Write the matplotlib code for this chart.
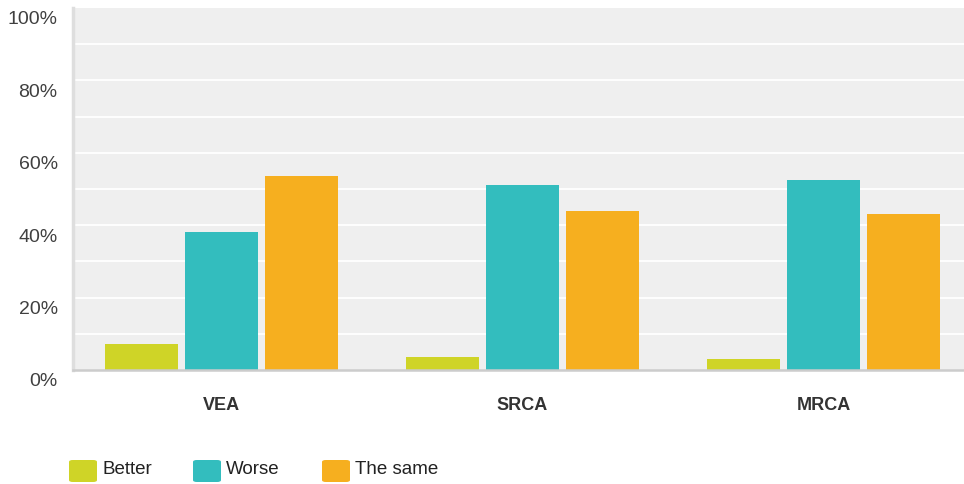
import matplotlib
matplotlib.use("Agg")
import matplotlib.pyplot as plt
from matplotlib.patches import FancyBboxPatch
from matplotlib.transforms import ScaledTranslation
import numpy as np

plt.rcParams['font.family'] = ['Liberation Sans', 'DejaVu Sans']

# data
categories = ["VEA", "SRCA", "MRCA"]
series = ["Better", "Worse", "The same"]
better = [7.2, 3.6, 3.0]
worse = [38.1, 51.1, 52.5]
same = [53.6, 43.9, 43.1]
colors = ["#cfd427", "#33bdbe", "#f6af1f"]
yticks = [0, 20, 40, 60, 80, 100]
ytick_labels = ["0%", "20%", "40%", "60%", "80%", "100%"]

W, H = 964, 485
fig = plt.figure(figsize=(W / 100, H / 100), dpi=100)

# axes placed in pixels
left, bottom, top = 73, 371, 9
ax = fig.add_axes([left / W, (H - bottom) / H, (W - left) / W, (bottom - top) / H])
ax.set_facecolor("#efefef")

unit = 301.0   # pixels per category
first = 221.5  # pixel centre of first category
ax.set_xlim(-(first - left) / unit, (W - first) / unit)
ax.set_ylim(0, 100)

x = np.arange(len(categories))
offset = 0.267
bw = 73 / unit
for i, (vals, c) in enumerate(zip([better, worse, same], colors)):
    ax.bar(x + (i - 1) * offset, vals, width=bw, color=c, zorder=3)

# white gridlines every 10%
for g in range(10, 100, 10):
    ax.axhline(g, color="white", lw=1.3, zorder=1)

for s in ["top", "right"]:
    ax.spines[s].set_visible(False)
ax.spines["left"].set_color("#dedede")
ax.spines["left"].set_linewidth(2.5)
ax.spines["bottom"].set_color("#cccccc")
ax.spines["bottom"].set_linewidth(1.8)
ax.spines["bottom"].set_zorder(4)

ax.set_yticks(yticks)
ax.set_yticklabels(ytick_labels, fontsize=14, color="#404040")
ax.tick_params(axis="y", length=0, pad=11)
shift = ScaledTranslation(0, -9 / 100, fig.dpi_scale_trans)
for lab in ax.get_yticklabels():
    lab.set_transform(lab.get_transform() + shift)

ax.set_xticks(x)
ax.set_xticklabels(categories, fontsize=13, fontweight="bold", color="#333333")
ax.tick_params(axis="x", length=0, pad=19)

# legend drawn in figure pixels
box_x = [69, 193, 322]
for bx, name, c in zip(box_x, series, colors):
    fig.patches.append(FancyBboxPatch((bx / W, (H - 483) / H), 28 / W, 22 / H,
                                      boxstyle="round,pad=0,rounding_size=0.004",
                                      transform=fig.transFigure, facecolor=c,
                                      edgecolor="none"))
    fig.text((bx + 33) / W, (H - 470) / H, name, fontsize=13.5, color="#222222",
             va="center", ha="left")

fig.savefig("out.png", dpi=100)
